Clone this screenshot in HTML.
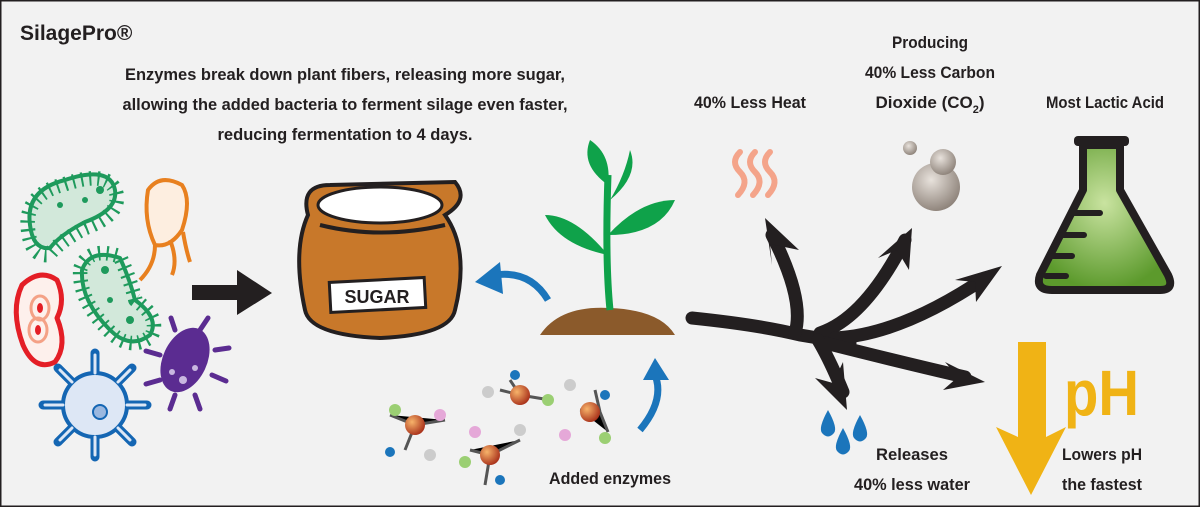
<!DOCTYPE html>
<html><head><meta charset="utf-8"><style>
html,body{margin:0;padding:0;background:#f2f2f2}
svg{display:block}
text{font-family:"Liberation Sans",sans-serif;font-weight:bold;fill:#231f20}
</style></head><body>
<svg width="1200" height="507" viewBox="0 0 1200 507" xmlns="http://www.w3.org/2000/svg">
<defs>
<radialGradient id="bub" cx="0.4" cy="0.35" r="0.7"><stop offset="0" stop-color="#e8e2dc"/><stop offset="1" stop-color="#8a7f76"/></radialGradient>
<radialGradient id="fl" cx="0.5" cy="0.4" r="0.6"><stop offset="0" stop-color="#c9e3a0"/><stop offset="1" stop-color="#5c9a2c"/></radialGradient>
<radialGradient id="ball" cx="0.35" cy="0.35" r="0.7"><stop offset="0" stop-color="#f7b36a"/><stop offset="1" stop-color="#a8301a"/></radialGradient>
</defs>
<rect x="0" y="0" width="1200" height="507" fill="#f2f2f2" stroke="#231f20" stroke-width="3"/>
<text x="20" y="40" font-size="21">SilagePro®</text>
<g font-size="17" text-anchor="middle">
<text x="345" y="80" textLength="440" lengthAdjust="spacingAndGlyphs">Enzymes break down plant fibers, releasing more sugar,</text>
<text x="345" y="110" textLength="445" lengthAdjust="spacingAndGlyphs">allowing the added bacteria to ferment silage even faster,</text>
<text x="345" y="140" textLength="255" lengthAdjust="spacingAndGlyphs">reducing fermentation to 4 days.</text>
<text x="750" y="108" textLength="112" lengthAdjust="spacingAndGlyphs">40% Less Heat</text>
<text x="930" y="48" textLength="76" lengthAdjust="spacingAndGlyphs">Producing</text>
<text x="930" y="78" textLength="130" lengthAdjust="spacingAndGlyphs">40% Less Carbon</text>
<text x="930" y="108">Dioxide (CO<tspan font-size="11" dy="5">2</tspan><tspan dy="-5">)</tspan></text>
<text x="1105" y="108" textLength="118" lengthAdjust="spacingAndGlyphs">Most Lactic Acid</text>
<text x="610" y="484" textLength="122" lengthAdjust="spacingAndGlyphs">Added enzymes</text>
<text x="912" y="460" textLength="72" lengthAdjust="spacingAndGlyphs">Releases</text>
<text x="912" y="490" textLength="116" lengthAdjust="spacingAndGlyphs">40% less water</text>
<text x="1102" y="460" textLength="80" lengthAdjust="spacingAndGlyphs">Lowers pH</text>
<text x="1102" y="490" textLength="80" lengthAdjust="spacingAndGlyphs">the fastest</text>
</g>
<!-- microbes -->
<g stroke-linejoin="round">
<path d="M30 225 Q25 190 65 180 Q110 165 115 190 Q118 210 85 222 Q60 235 50 248 Q33 250 30 225Z" fill="#d2e8da" stroke="#1e9a5c" stroke-width="4"/>
<path d="M30 225 Q25 190 65 180 Q110 165 115 190 Q118 210 85 222 Q60 235 50 248 Q33 250 30 225Z" fill="none" stroke="#1e9a5c" stroke-width="14" stroke-dasharray="2 6" transform="translate(-3 -3) scale(1.04)"/>
<path d="M82 270 Q90 248 120 258 Q130 280 135 300 Q160 318 150 335 Q130 350 110 330 Q80 300 82 270Z" fill="#d2e8da" stroke="#1e9a5c" stroke-width="4"/>
<path d="M82 270 Q90 248 120 258 Q130 280 135 300 Q160 318 150 335 Q130 350 110 330 Q80 300 82 270Z" fill="none" stroke="#1e9a5c" stroke-width="14" stroke-dasharray="2 6" transform="translate(-5 -12) scale(1.04)"/>
<path d="M148 190 Q160 173 182 185 Q192 200 182 230 Q170 248 155 245 Q143 220 148 190Z" fill="#fdeee0" stroke="#e8801f" stroke-width="4"/>
<path d="M155 245 Q155 265 140 280 M170 240 Q178 260 172 275 M183 232 Q186 250 190 262" fill="none" stroke="#e8801f" stroke-width="4"/>
<path d="M22 285 Q40 268 57 280 Q66 300 57 318 Q68 345 55 362 Q35 372 23 345 Q10 310 22 285Z" fill="#fdf0ec" stroke="#e41e26" stroke-width="5"/>
<ellipse cx="40" cy="308" rx="9" ry="12" fill="none" stroke="#f4a186" stroke-width="3"/><ellipse cx="38" cy="330" rx="9" ry="12" fill="none" stroke="#f4a186" stroke-width="3"/>
<ellipse cx="40" cy="308" rx="3" ry="5" fill="#e41e26"/><ellipse cx="38" cy="330" rx="3" ry="5" fill="#e41e26"/>
<g stroke="#1466b3" stroke-width="9" stroke-linecap="round"><path d="M95 373v-20M95 437v20M63 405h-20M127 405h20M72 382l-14-14M118 428l14 14M118 382l14-14M72 428l-14 14"/></g>
<circle cx="95" cy="405" r="32" fill="#dde7f5" stroke="#1466b3" stroke-width="4"/>
<g stroke="#dde7f5" stroke-width="3" stroke-linecap="round"><path d="M95 373v-18M95 437v18M63 405h-18M127 405h18M72 382l-12-12M118 428l12 12M118 382l12-12M72 428l-12 12"/></g>
<circle cx="100" cy="412" r="7" fill="#9bb8df" stroke="#1466b3" stroke-width="2"/>
<g stroke="#5b2c91" stroke-width="5" stroke-linecap="round"><path d="M200 330l8-12M215 350l14-2M212 375l14 6M195 395l5 14M175 395l-5 14M160 380l-14 4M160 355l-14-4M175 330l-4-12"/></g>
<ellipse cx="185" cy="360" rx="22" ry="34" transform="rotate(25 185 360)" fill="#5b2c91"/>
<circle cx="183" cy="380" r="4" fill="#c9b7e0"/><circle cx="195" cy="368" r="3" fill="#c9b7e0"/><circle cx="172" cy="372" r="3" fill="#c9b7e0"/>
</g>
<g fill="#1e9a5c"><circle cx="60" cy="205" r="3"/><circle cx="85" cy="200" r="3"/><circle cx="100" cy="190" r="4"/><circle cx="105" cy="270" r="4"/><circle cx="110" cy="300" r="3"/><circle cx="130" cy="320" r="4"/></g>
<!-- black arrow -->
<path d="M192 285h45v-15l35 23-35 22v-15h-45z" fill="#231f20"/>
<!-- sugar bag -->
<path d="M308 215 Q300 185 330 185 L455 182 Q470 200 445 215 Q470 250 455 310 Q450 335 380 338 Q310 335 305 310 Q292 250 308 215Z" fill="#c8782a" stroke="#231f20" stroke-width="4"/>
<ellipse cx="380" cy="205" rx="62" ry="18" fill="#fff" stroke="#231f20" stroke-width="3"/>
<path d="M320 225 Q380 240 445 225" fill="none" stroke="#231f20" stroke-width="4"/>
<rect x="330" y="280" width="95" height="30" fill="#fff" stroke="#231f20" stroke-width="3" transform="rotate(-3 377 295)"/>
<text x="377" y="303" font-size="18" text-anchor="middle">SUGAR</text>
<!-- blue curved arrows -->
<path d="M548 300 Q530 270 495 275" fill="none" stroke="#1b75bb" stroke-width="7"/>
<path d="M500 262l-25 20 28 12z" fill="#1b75bb"/>
<path d="M640 430 Q665 400 655 375" fill="none" stroke="#1b75bb" stroke-width="7"/>
<path d="M643 380l12-22 14 22z" fill="#1b75bb"/>
<!-- plant -->
<path d="M540 335 Q560 305 610 308 Q660 310 675 335Z" fill="#8b5a2b"/>
<path d="M610 310 Q605 260 608 175" fill="none" stroke="#0fa24a" stroke-width="7"/>
<path d="M608 185 Q580 165 590 140 Q612 155 608 185Z" fill="#0fa24a"/>
<path d="M608 255 Q575 215 545 215 Q560 245 608 255Z" fill="#0fa24a"/>
<path d="M608 235 Q640 200 675 200 Q660 235 608 235Z" fill="#0fa24a"/>
<path d="M610 200 Q625 175 630 150 Q640 175 610 200Z" fill="#0fa24a"/>
<!-- enzymes -->
<g stroke="#555" stroke-width="3">
<path d="M390 415 L415 425 L445 420 M415 425 L405 450 M470 450 L490 455 L520 440 M490 455 L485 485 M500 390 L520 395 L550 400 M520 395 L510 380 M580 410 L600 412 L608 432 M600 412 L595 390"/>
</g>
<g>
<circle cx="415" cy="425" r="10" fill="url(#ball)"/><circle cx="490" cy="455" r="10" fill="url(#ball)"/><circle cx="520" cy="395" r="10" fill="url(#ball)"/><circle cx="590" cy="412" r="10" fill="url(#ball)"/>
<circle cx="395" cy="410" r="6" fill="#9bcf73"/><circle cx="440" cy="415" r="6" fill="#e5a8d8"/><circle cx="390" cy="452" r="5" fill="#1b75bb"/><circle cx="430" cy="455" r="6" fill="#ccc"/>
<circle cx="465" cy="462" r="6" fill="#9bcf73"/><circle cx="475" cy="432" r="6" fill="#e5a8d8"/><circle cx="520" cy="430" r="6" fill="#ccc"/><circle cx="500" cy="480" r="5" fill="#1b75bb"/>
<circle cx="488" cy="392" r="6" fill="#ccc"/><circle cx="515" cy="375" r="5" fill="#1b75bb"/><circle cx="548" cy="400" r="6" fill="#9bcf73"/><circle cx="565" cy="435" r="6" fill="#e5a8d8"/>
<circle cx="570" cy="385" r="6" fill="#ccc"/><circle cx="605" cy="395" r="5" fill="#1b75bb"/><circle cx="605" cy="438" r="6" fill="#9bcf73"/>
</g>
<!-- heat waves -->
<g fill="none" stroke="#f4a48a" stroke-width="6" stroke-linecap="round">
<path d="M740 152 Q730 162 740 172 Q750 182 738 195"/><path d="M755 152 Q745 162 755 172 Q765 182 753 195"/><path d="M770 152 Q760 162 770 172 Q780 182 768 195"/>
</g>
<!-- bubbles -->
<circle cx="936" cy="187" r="24" fill="url(#bub)"/><circle cx="943" cy="162" r="13" fill="url(#bub)"/><circle cx="910" cy="148" r="7" fill="url(#bub)"/>
<!-- flask -->
<path d="M1083 145 L1083 190 L1040 275 Q1035 290 1052 290 L1160 290 Q1175 290 1168 275 L1120 190 L1120 145Z" fill="url(#fl)" stroke="#231f20" stroke-width="8" stroke-linejoin="round"/>
<rect x="1074" y="136" width="55" height="10" rx="4" fill="#231f20"/>
<g stroke="#231f20" stroke-width="6" stroke-linecap="round"><path d="M1072 213h28M1062 235h22M1052 256h20M1046 276h20"/></g>
<!-- branching arrows -->
<g fill="none" stroke="#231f20" stroke-width="13" stroke-linecap="round">
<path d="M692 318 Q760 325 800 335 Q830 340 850 343"/>
<path d="M795 333 Q805 300 772 235"/>
<path d="M820 333 Q865 318 905 240"/>
<path d="M835 338 Q900 335 985 278"/>
<path d="M825 343 Q900 362 965 377"/>
<path d="M818 340 Q830 360 843 392"/>
</g>
<g fill="#231f20">
<path d="M765 218 L799 250 L770 244 L772 265Z"/>
<path d="M912 228 L909 270 L897 250 L878 258Z"/>
<path d="M1002 266 L976 302 L975 282 L955 280Z"/>
<path d="M985 382 L943 390 L958 377 L945 362Z"/>
<path d="M847 410 L815 378 L833 383 L843 362Z"/>
</g>
<!-- drops -->
<g fill="#1b75bb"><path d="M828 410 Q818 428 822 433 Q828 440 834 433 Q838 428 828 410Z"/><path d="M860 415 Q850 433 854 438 Q860 445 866 438 Q870 433 860 415Z"/><path d="M843 428 Q833 446 837 451 Q843 458 849 451 Q853 446 843 428Z"/></g>
<!-- pH -->
<path d="M1018 342h28v95l20-10-35 68-35-68 22 10z" fill="#f0b315"/>
<text x="1064" y="415" font-size="64" style="fill:#f0b315" textLength="75" lengthAdjust="spacingAndGlyphs">pH</text>
</svg>
</body></html>
